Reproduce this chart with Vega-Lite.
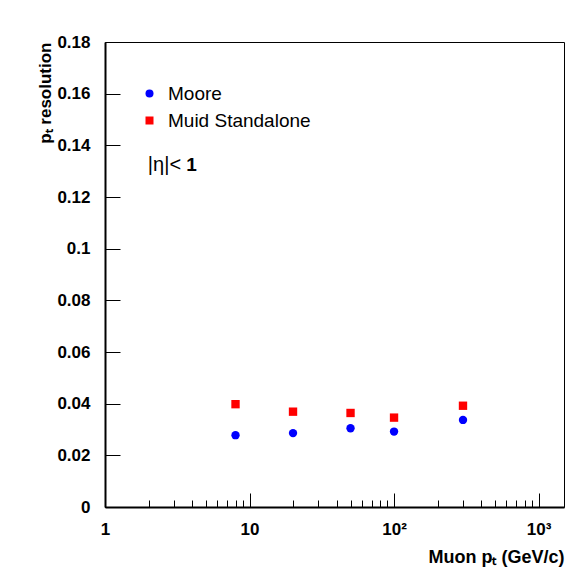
{
  "$schema": "https://vega.github.io/schema/vega-lite/v6.json",
  "width": 459,
  "height": 465,
  "autosize": "none",
  "padding": {"left": 105, "top": 42, "right": 20, "bottom": 74},
  "background": "white",
  "config": {
    "view": {"stroke": "black", "strokeWidth": 1},
    "font": "Liberation Sans"
  },
  "datasets": {
    "pts": [
      {"pt": 8, "res": 0.0278, "lo": 0.0278, "hi": 0.0278, "algo": "Moore"},
      {"pt": 20, "res": 0.0286, "lo": 0.0286, "hi": 0.0286, "algo": "Moore"},
      {"pt": 50, "res": 0.0305, "lo": 0.0305, "hi": 0.0305, "algo": "Moore"},
      {"pt": 100, "res": 0.0292, "lo": 0.0292, "hi": 0.0292, "algo": "Moore"},
      {"pt": 300, "res": 0.0337, "lo": 0.0337, "hi": 0.0337, "algo": "Moore"},
      {"pt": 8, "res": 0.0398, "lo": 0.0392, "hi": 0.0404, "algo": "Muid Standalone"},
      {"pt": 20, "res": 0.0369, "lo": 0.0369, "hi": 0.0369, "algo": "Muid Standalone"},
      {"pt": 50, "res": 0.0364, "lo": 0.0364, "hi": 0.0364, "algo": "Muid Standalone"},
      {"pt": 100, "res": 0.0346, "lo": 0.0346, "hi": 0.0346, "algo": "Muid Standalone"},
      {"pt": 300, "res": 0.0392, "lo": 0.0392, "hi": 0.0392, "algo": "Muid Standalone"}
    ],
    "note": [{"x": 1}]
  },
  "layer": [
    {
      "data": {"name": "pts"},
      "mark": {"type": "rule", "strokeWidth": 1},
      "encoding": {
        "x": {"field": "pt", "type": "quantitative"},
        "y": {"field": "lo", "type": "quantitative"},
        "y2": {"field": "hi"},
        "color": {"field": "algo", "type": "nominal"}
      }
    },
    {
      "data": {"name": "pts"},
      "mark": {"type": "point", "filled": true, "opacity": 1, "size": 70},
      "encoding": {
        "x": {
          "field": "pt", "type": "quantitative",
          "scale": {"type": "log", "domain": [1, 1500], "nice": false},
          "axis": {
            "values": [1,2,3,4,5,6,7,8,9,10,20,30,40,50,60,70,80,90,100,200,300,400,500,600,700,800,900,1000],
            "labelExpr": "datum.value==1?'1':datum.value==10?'10':datum.value==100?'10²':datum.value==1000?'10³':''",
            "tickSize": {"condition": {"test": "datum.value==1||datum.value==10||datum.value==100||datum.value==1000", "value": -14}, "value": -7},
            "tickColor": "black", "tickWidth": 1,
            "domainColor": "black", "domainWidth": 2,
            "grid": false,
            "labelFont": "Liberation Sans", "labelFontWeight": "bold", "labelFontSize": 17, "labelColor": "black",
            "labelPadding": 28, "labelFlush": false, "labelOverlap": false,
            "title": "Muon pₜ (GeV/c)", "titleAnchor": "end",
            "titleFont": "Liberation Sans", "titleFontWeight": "bold", "titleFontSize": 18, "titleColor": "black",
            "titlePadding": 4
          }
        },
        "y": {
          "field": "res", "type": "quantitative",
          "scale": {"domain": [0, 0.18], "nice": false},
          "axis": {
            "values": [0,0.005,0.01,0.015,0.02,0.025,0.03,0.035,0.04,0.045,0.05,0.055,0.06,0.065,0.07,0.075,0.08,0.085,0.09,0.095,0.1,0.105,0.11,0.115,0.12,0.125,0.13,0.135,0.14,0.145,0.15,0.155,0.16,0.165,0.17,0.175,0.18],
            "labelExpr": "round(datum.value*1000) % 20 == 0 ? format(datum.value, '.2~f') : ''",
            "tickSize": {"condition": {"test": "round(datum.value*1000) % 20 == 0", "value": -15}, "value": -8},
            "tickColor": "black", "tickWidth": 1,
            "domainColor": "black", "domainWidth": 2,
            "grid": false,
            "labelFont": "Liberation Sans", "labelFontWeight": "bold", "labelFontSize": 17, "labelColor": "black",
            "labelPadding": 30, "labelOverlap": false, "labelFlush": false,
            "title": "pₜ resolution", "titleAnchor": "end",
            "titleFont": "Liberation Sans", "titleFontWeight": "bold", "titleFontSize": 17, "titleColor": "black",
            "titlePadding": 2
          }
        },
        "shape": {"field": "algo", "type": "nominal", "scale": {"domain": ["Moore", "Muid Standalone"], "range": ["circle", "square"]},
          "legend": {
            "orient": "none", "legendX": 35, "legendY": 42, "title": null, "padding": 0,
            "labelFont": "Liberation Sans", "labelFontSize": 19, "labelColor": "black",
            "symbolSize": 64, "rowPadding": 7, "labelOffset": 9, "symbolStrokeWidth": 0
          }
        },
        "color": {"field": "algo", "type": "nominal", "scale": {"domain": ["Moore", "Muid Standalone"], "range": ["#0000ff", "#ff0000"]}}
      }
    },
    {
      "data": {"name": "note"},
      "mark": {"type": "text", "align": "left", "baseline": "middle", "font": "Liberation Sans", "fontSize": 20, "color": "black"},
      "encoding": {
        "x": {"datum": 1.98, "type": "quantitative"},
        "y": {"datum": 0.1324, "type": "quantitative"},
        "text": {"value": "|η|<"}
      }
    },
    {
      "data": {"name": "note"},
      "mark": {"type": "text", "align": "left", "baseline": "middle", "font": "Liberation Sans", "fontSize": 19, "fontWeight": "bold", "color": "black"},
      "encoding": {
        "x": {"datum": 3.65, "type": "quantitative"},
        "y": {"datum": 0.1324, "type": "quantitative"},
        "text": {"value": "1"}
      }
    }
  ]
}
